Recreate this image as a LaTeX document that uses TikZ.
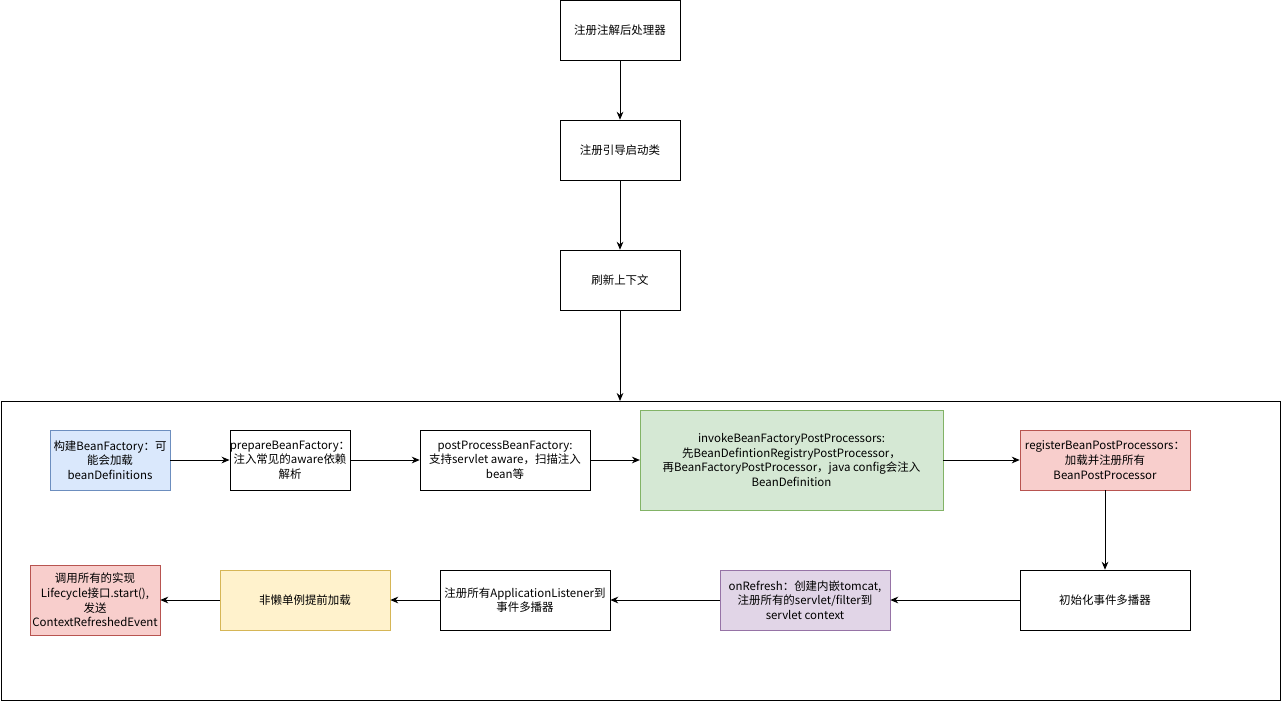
\documentclass[tikz,border=0pt]{standalone}
\usepackage{fontspec}
\setmainfont{Noto Sans CJK SC}
\usepackage{tikz}
\usetikzlibrary{arrows.meta}

\definecolor{bluefill}{HTML}{DAE8FC}\definecolor{bluedraw}{HTML}{6C8EBF}
\definecolor{greenfill}{HTML}{D5E8D4}\definecolor{greendraw}{HTML}{82B366}
\definecolor{redfill}{HTML}{F8CECC}\definecolor{reddraw}{HTML}{B85450}
\definecolor{purplefill}{HTML}{E1D5E7}\definecolor{purpledraw}{HTML}{9673A6}
\definecolor{yellowfill}{HTML}{FFF2CC}\definecolor{yellowdraw}{HTML}{D6B656}

\tikzset{
  stepbox/.style={draw,fill=white,inner sep=0pt,align=center,
    font=\fontsize{8.6}{11}\selectfont},
  flow/.style={-{Stealth[length=6pt,width=5pt]},line width=0.7pt}
}

\begin{document}
\begin{tikzpicture}[x=0.75pt,y=-0.75pt]
\useasboundingbox (0,0) rectangle (1281,701);
%\draw[help lines,step=50] (0,0) grid (1281,701);

% outer frame
\draw[line width=0.7pt] (1,401) rectangle (1280,700);
\coordinate (ctxtop) at (620,401);

% top column
\node[stepbox,minimum width=90pt,minimum height=45pt] (reg) at (620,30) {注册注解后处理器};
\node[stepbox,minimum width=90pt,minimum height=45pt] (boot) at (620,150) {注册引导启动类};
\node[stepbox,minimum width=90pt,minimum height=45pt] (refresh) at (620,280) {刷新上下文};

% first row
\node[stepbox,fill=bluefill,draw=bluedraw,minimum width=90pt,minimum height=45pt] (build) at (110,460)
  {构建BeanFactory：可\\能会加载\\beanDefinitions};
\node[stepbox,minimum width=90pt,minimum height=45pt] (prepare) at (290,460)
  {prepareBeanFactory：\\注入常见的aware依赖\\解析};
\node[stepbox,minimum width=127.5pt,minimum height=45pt] (post) at (505,460)
  {postProcessBeanFactory:\\支持servlet aware，扫描注入\\bean等};
\node[stepbox,fill=greenfill,draw=greendraw,minimum width=227pt,minimum height=75pt] (invoke) at (791.5,460)
  {invokeBeanFactoryPostProcessors:\\先BeanDefintionRegistryPostProcessor，\\再BeanFactoryPostProcessor，java config会注入\\BeanDefinition};
\node[stepbox,fill=redfill,draw=reddraw,minimum width=127.5pt,minimum height=45pt] (regbpp) at (1105,460)
  {registerBeanPostProcessors：\\加载并注册所有\\BeanPostProcessor};

% second row
\node[stepbox,minimum width=127.5pt,minimum height=45pt] (multi) at (1105,600) {初始化事件多播器};
\node[stepbox,fill=purplefill,draw=purpledraw,minimum width=127.5pt,minimum height=45pt] (onref) at (805,600)
  {onRefresh：创建内嵌tomcat,\\注册所有的servlet/filter到\\servlet context};
\node[stepbox,minimum width=127.5pt,minimum height=45pt] (listen) at (525,600)
  {注册所有ApplicationListener到\\事件多播器};
\node[stepbox,fill=yellowfill,draw=yellowdraw,minimum width=127.5pt,minimum height=45pt] (lazy) at (305,600)
  {非懒单例提前加载};
\node[stepbox,fill=redfill,draw=reddraw,minimum width=97.5pt,minimum height=52.5pt] (finish) at (95,600)
  {调用所有的实现\\Lifecycle接口.start(),\\发送\\ContextRefreshedEvent};

\draw[flow] (reg) -- (boot);
\draw[flow] (boot) -- (refresh);
\draw[flow] (refresh) -- (ctxtop);

\draw[flow] (build) -- (prepare);
\draw[flow] (prepare) -- (post);
\draw[flow] (post) -- (invoke);
\draw[flow] (invoke) -- (regbpp);
\draw[flow] (regbpp) -- (multi);
\draw[flow] (multi) -- (onref);
\draw[flow] (onref) -- (listen);
\draw[flow] (listen) -- (lazy);
\draw[flow] (lazy) -- (finish);

\end{tikzpicture}
\end{document}
